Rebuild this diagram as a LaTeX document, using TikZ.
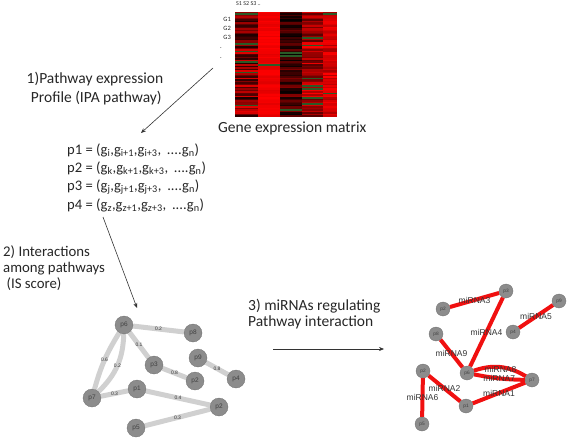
\documentclass[tikz,border=0pt]{standalone}
\usepackage{fontspec}
\setmainfont{Carlito}
\newfontfamily\arialf{Liberation Sans}
\usetikzlibrary{arrows.meta,backgrounds}
\definecolor{nodegray}{HTML}{8C8C8C}
\definecolor{edgegray}{HTML}{D0D0D0}
\definecolor{mired}{HTML}{F01010}
\definecolor{hmgreen}{HTML}{2A5A26}
\definecolor{txt}{HTML}{262626}
\begin{document}
\begin{tikzpicture}[x=1pt,y=-1pt,
  lbl/.style={font=\fontsize{15.5}{19}\selectfont, inner sep=0pt, text=txt},
  formula/.style={font=\fontsize{14.6}{17}\selectfont, inner sep=0pt, anchor=west, text=txt},
  pnode/.style={circle, fill=nodegray, draw=nodegray!80!black, line width=0.3pt, minimum size=18pt, inner sep=0pt, font=\arialf\fontsize{6.5}{7}\selectfont, text=black!75},
  qnode/.style={circle, fill=nodegray, draw=nodegray!80!black, line width=0.3pt, minimum size=14pt, inner sep=0pt, font=\arialf\fontsize{4.8}{5}\selectfont, text=black!75},
  gedge/.style={draw=edgegray, line width=5pt},
  redge/.style={draw=mired, line width=4pt},
  elab/.style={font=\arialf\fontsize{5}{5}\selectfont, inner sep=0pt, text=black!80},
  mlab/.style={font=\arialf\fontsize{8.5}{9}\selectfont, inner sep=0pt, text=black!80},
  arr/.style={draw=black!80, line width=0.6pt, -{Stealth[length=5pt,width=4pt]}}
]
\useasboundingbox (0,0) rectangle (567,441);

% ---- heat map ----
\pgfmathsetseed{5}
\foreach \xa/\xb/\lo/\hi/\gr in {235/258/10/90/14, 258/280/88/100/90, 280/302/0/55/14, 302/323/35/100/22, 323/337/65/100/40} {
  \foreach \r in {0,...,69} {
    \pgfmathrandominteger{\p}{\lo}{\hi}
    \pgfmathrandominteger{\g}{0}{\gr}
    \ifnum\g=0
      \fill[hmgreen] (\xa,{12+\r*1.5}) rectangle (\xb,{12+(\r+1)*1.5});
    \else
      \fill[red!\p!black] (\xa,{12+\r*1.5}) rectangle (\xb,{12+(\r+1)*1.5});
    \fi
  }
}
\node[font=\fontsize{6}{7}\selectfont, inner sep=0pt, anchor=west, text=txt] (shdr) at (236,4) {S1 S2 S3 ..};
\node[font=\fontsize{6.5}{7}\selectfont, inner sep=0pt, anchor=east, text=txt] (g1) at (231,19) {G1};
\node[font=\fontsize{6.5}{7}\selectfont, inner sep=0pt, anchor=east, text=txt] (g2) at (231,28) {G2};
\node[font=\fontsize{6.5}{7}\selectfont, inner sep=0pt, anchor=east, text=txt] (g3) at (231,37) {G3};
\node[font=\fontsize{6.5}{7}\selectfont, inner sep=0pt] (d1) at (221,48) {.};
\node[font=\fontsize{6.5}{7}\selectfont, inner sep=0pt] (d2) at (221,58) {.};
\node[lbl, anchor=west] (gem) at (218,128) {Gene expression matrix};

% ---- step 1 ----
\node[lbl, align=center] (s1) at (95,88.5) {1)Pathway expression\\ \,Profile (IPA pathway)};
\coordinate (a1s) at (213,68);
\coordinate (a1e) at (141,133);
\draw[arr] (a1s) -- (a1e);

\node[formula] (f1) at (67,150) {p1 = (g\textsubscript{i},g\textsubscript{i+1},g\textsubscript{i+3}, \,....g\textsubscript{n})};
\node[formula] (f2) at (67,168.5) {p2 = (g\textsubscript{k},g\textsubscript{k+1},g\textsubscript{k+3}, \,....g\textsubscript{n})};
\node[formula] (f3) at (67,187) {p3 = (g\textsubscript{j},g\textsubscript{j+1},g\textsubscript{j+3}, \,....g\textsubscript{n})};
\node[formula] (f4) at (67,205.5) {p4 = (g\textsubscript{z},g\textsubscript{z+1},g\textsubscript{z+3}, \,....g\textsubscript{n})};

% ---- step 2 ----
\node[lbl, font=\fontsize{14.8}{16}\selectfont, align=left, anchor=west] (s2) at (3,268) {2) Interactions\\among pathways\\ \ (IS score)};
\coordinate (a2s) at (103,217);
\coordinate (a2e) at (137,308);
\draw[arr] (a2s) -- (a2e);

% left network
\node[pnode] (L6) at (124,325) {p6};
\node[pnode] (L8) at (193,333) {p8};
\node[pnode] (L3) at (154,365) {p3};
\node[pnode] (L2a) at (195,381) {p2};
\node[pnode] (L9) at (198,358) {p9};
\node[pnode] (L4) at (236,379) {p4};
\node[pnode] (L1) at (137,389) {p1};
\node[pnode] (L2b) at (219,407) {p2};
\node[pnode] (L5) at (136,428) {p5};
\node[pnode] (L7) at (92,398) {p7};
\begin{pgfonlayer}{background}
\draw[gedge] (L6) -- node[elab]{0.2} (L8);
\draw[gedge] (L6) -- node[elab]{0.1} (L3);
\draw[gedge] (L3) -- node[elab]{0.8} (L2a);
\draw[gedge] (L9) -- node[elab]{0.8} (L4);
\draw[gedge] (L7) -- node[elab]{0.3} (L1);
\draw[gedge] (L1) -- node[elab]{0.4} (L2b);
\draw[gedge] (L5) -- node[elab]{0.3} (L2b);
\draw[gedge] (L7) to[bend left=8] node[elab]{0.6} (L6);
\draw[gedge] (L7) to[bend right=22] node[elab]{0.2} (L6);
\end{pgfonlayer}

% ---- step 3 ----
\node[lbl, font=\fontsize{15.5}{16}\selectfont, align=left, anchor=west] (s3) at (248,314) {3) miRNAs regulating\\Pathway interaction};
\coordinate (a3s) at (273,349);
\coordinate (a3e) at (384,349);
\draw[arr] (a3s) -- (a3e);

% right network
\node[qnode] (R3) at (506,291) {p3};
\node[qnode] (R2a) at (443,309) {p2};
\node[qnode] (R9) at (559,301) {p9};
\node[qnode] (R4) at (513,332) {p4};
\node[qnode] (R8) at (436,334) {p8};
\node[qnode] (R6) at (467,373) {p6};
\node[qnode] (R7) at (532,380) {p7};
\node[qnode] (R2b) at (423,371) {p2};
\node[qnode] (R1) at (466,406) {p1};
\node[qnode] (R5) at (422,424) {p5};
\begin{pgfonlayer}{background}
\draw[redge] (R2a) -- node[mlab]{miRNA3} (R3);
\draw[redge] (R3) -- node[mlab]{miRNA4} (R6);
\draw[redge] (R4) -- node[mlab]{miRNA5} (R9);
\draw[redge] (R8) -- node[mlab]{miRNA9} (R6);
\draw[redge] (R2b) -- node[mlab]{miRNA2} (R1);
\draw[redge] (R2b) -- node[mlab]{miRNA6} (R5);
\draw[redge] (R1) -- node[mlab]{miRNA1} (R7);
\draw[redge] (R6) to[bend left=25] node[mlab, yshift=-2pt]{miRNA8} (R7);
\draw[redge] (R6) to[bend right=5] node[mlab]{miRNA7} (R7);
\end{pgfonlayer}
\end{tikzpicture}
\end{document}
